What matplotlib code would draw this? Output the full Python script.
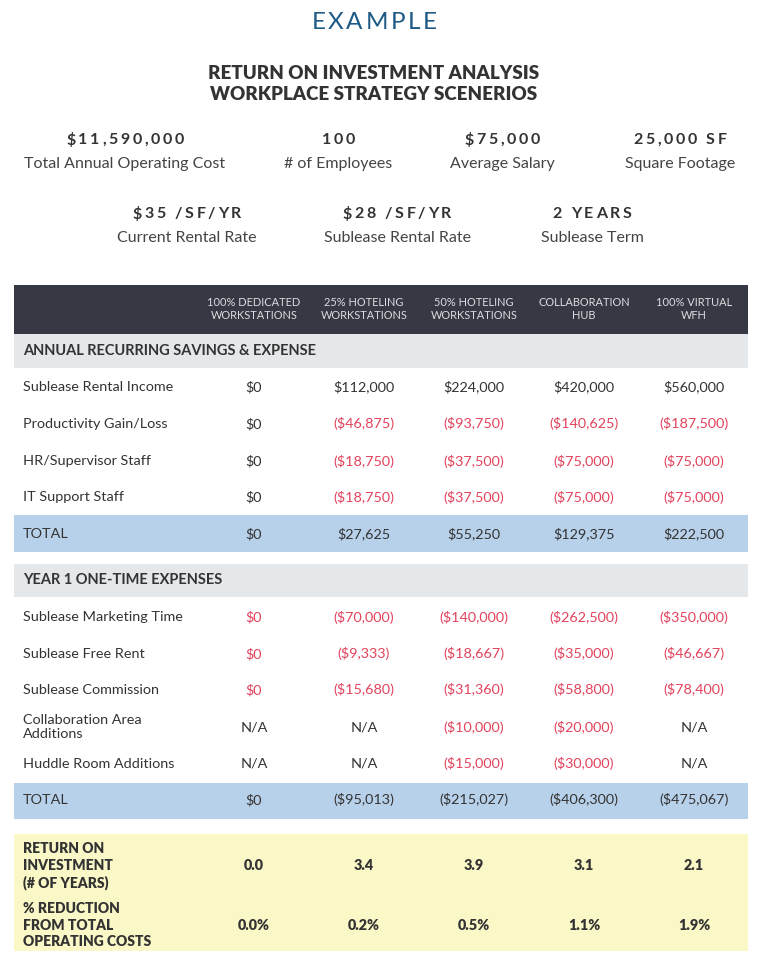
import matplotlib
matplotlib.use("Agg")
import matplotlib.pyplot as plt
from matplotlib import font_manager, ft2font
from matplotlib.patches import Rectangle

# ---- datos ----
kpi_values_1 = ["$11,590,000", "100", "$75,000", "25,000 SF"]
kpi_labels_1 = ["Total Annual Operating Cost", "# of Employees", "Average Salary", "Square Footage"]
kpi_values_2 = ["$35 /SF/YR", "$28 /SF/YR", "2 YEARS"]
kpi_labels_2 = ["Current Rental Rate", "Sublease Rental Rate", "Sublease Term"]

columnas = ["100% DEDICATED\nWORKSTATIONS", "25% HOTELING\nWORKSTATIONS",
            "50% HOTELING\nWORKSTATIONS", "COLLABORATION\nHUB", "100% VIRTUAL\nWFH"]

recurrente_filas = ["Sublease Rental Income", "Productivity Gain/Loss",
                    "HR/Supervisor Staff", "IT Support Staff"]
sublease_income = [0, 112000, 224000, 420000, 560000]
productividad = [0, -46875, -93750, -140625, -187500]
hr_staff = [0, -18750, -37500, -75000, -75000]
it_staff = [0, -18750, -37500, -75000, -75000]
total_recurrente = [0, 27625, 55250, 129375, 222500]

unico_filas = ["Sublease Marketing Time", "Sublease Free Rent", "Sublease Commission",
               "Collaboration Area\nAdditions", "Huddle Room Additions"]
marketing = [0, -70000, -140000, -262500, -350000]
free_rent = [0, -9333, -18667, -35000, -46667]
comision = [0, -15680, -31360, -58800, -78400]
collab_area = [None, None, -10000, -20000, None]
huddle = [None, None, -15000, -30000, None]
total_unico = [0, -95013, -215027, -406300, -475067]

roi_anios = [0.0, 3.4, 3.9, 3.1, 2.1]
reduccion_pct = [0.0, 0.2, 0.5, 1.1, 1.9]

# ---- estilo ----
FUENTE = "Lato"
OSCURO = "#363943"
GRIS = "#e5e8ea"
AZUL = "#b8d1ea"
AMARILLO = "#fbf8c8"
ROJO = "#e2435c"
TEXTO = "#333333"

col_x = [254, 364, 474, 584, 694]
x_izq, x_der = 14, 748
label_x = 23
FS = 10.4  # cuerpo de la tabla


def fmt(v):
    if v is None:
        return "N/A"
    if v < 0:
        return "(${:,})".format(-v)
    return "${:,}".format(v)


def texto_espaciado(ax, xc, y, s, size, weight, color, esp):
    # dibuja texto con espaciado entre letras (px)
    fp = font_manager.FontProperties(family=FUENTE, weight=weight)
    fuente = ft2font.FT2Font(font_manager.findfont(fp))
    fuente.set_size(size, 100)
    anchos = []
    for c in s:
        g = fuente.load_char(ord(c))
        anchos.append(g.linearHoriAdvance / 65536)
    total = sum(anchos) + esp * (len(s) - 1)
    x = xc - total / 2
    for c, w in zip(s, anchos):
        ax.text(x, y, c, fontsize=size, fontweight=weight, color=color,
                family=FUENTE, ha="left", va="center")
        x += w + esp


fig = plt.figure(figsize=(7.6, 9.69), dpi=100)
ax = fig.add_axes([0, 0, 1, 1])
ax.set_xlim(0, 760)
ax.set_ylim(969, 0)
ax.axis("off")

# titulo
texto_espaciado(ax, 374, 22, "EXAMPLE", 17.5, "normal", "#1d5a85", 2.6)
ax.text(374, 73, "RETURN ON INVESTMENT ANALYSIS", fontsize=13.5, fontweight="heavy",
        family=FUENTE, color=TEXTO, ha="center", va="center")
ax.text(374, 94, "WORKPLACE STRATEGY SCENERIOS", fontsize=13.5, fontweight="heavy",
        family=FUENTE, color=TEXTO, ha="center", va="center")

# indicadores
for xc, v, l in zip([125, 338, 502, 680], kpi_values_1, kpi_labels_1):
    texto_espaciado(ax, xc, 140, v, 11.5, "bold", TEXTO, 2.6)
    ax.text(xc, 164, l, fontsize=11.5, family=FUENTE, color="#444444", ha="center", va="center")
for xc, v, l in zip([187, 397, 592], kpi_values_2, kpi_labels_2):
    texto_espaciado(ax, xc, 214, v, 11.5, "bold", TEXTO, 2.6)
    ax.text(xc, 238, l, fontsize=11.5, family=FUENTE, color="#444444", ha="center", va="center")


def banda(y0, y1, color):
    ax.add_patch(Rectangle((x_izq, y0), x_der - x_izq, y1 - y0, color=color, lw=0))


# encabezado de tabla
banda(285, 334, OSCURO)
for xc, c in zip(col_x, columnas):
    ax.text(xc, 309, c, fontsize=7.9, family=FUENTE, color="#dcdde0", ha="center",
            va="center", linespacing=1.2)

# seccion 1
banda(334, 368, GRIS)
ax.text(label_x, 351, "ANNUAL RECURRING SAVINGS & EXPENSE", fontsize=10.5, fontweight="bold",
        family=FUENTE, color=TEXTO, ha="left", va="center")

recurrentes = [sublease_income, productividad, hr_staff, it_staff]
for y, nombre, vals in zip([387, 424, 461, 497], recurrente_filas, recurrentes):
    ax.text(label_x, y, nombre, fontsize=FS, family=FUENTE, color=TEXTO, ha="left", va="center")
    for xc, v in zip(col_x, vals):
        color = ROJO if (v is not None and v < 0) else TEXTO
        ax.text(xc, y, fmt(v), fontsize=FS, family=FUENTE, color=color, ha="center", va="center")

banda(515, 552, AZUL)
ax.text(label_x, 534, "TOTAL", fontsize=FS, family=FUENTE, color=TEXTO, ha="left", va="center")
for xc, v in zip(col_x, total_recurrente):
    ax.text(xc, 534, fmt(v), fontsize=FS, family=FUENTE, color=TEXTO, ha="center", va="center")

# seccion 2
banda(564, 597, GRIS)
ax.text(label_x, 580, "YEAR 1 ONE-TIME EXPENSES", fontsize=10.5, fontweight="bold",
        family=FUENTE, color=TEXTO, ha="left", va="center")

unicos = [marketing, free_rent, comision, collab_area, huddle]
for y, nombre, vals in zip([617, 654, 690, 727, 764], unico_filas, unicos):
    ax.text(label_x, y, nombre, fontsize=FS, family=FUENTE, color=TEXTO, ha="left",
            va="center", linespacing=1.15)
    for xc, v in zip(col_x, vals):
        color = TEXTO if v is None else ROJO
        ax.text(xc, y, fmt(v), fontsize=FS, family=FUENTE, color=color, ha="center", va="center")

banda(783, 819, AZUL)
ax.text(label_x, 800, "TOTAL", fontsize=FS, family=FUENTE, color=TEXTO, ha="left", va="center")
for xc, v in zip(col_x, total_unico):
    ax.text(xc, 800, fmt(v), fontsize=FS, family=FUENTE, color=TEXTO, ha="center", va="center")

# resumen
banda(834, 951, AMARILLO)
ax.text(label_x, 866, "RETURN ON\nINVESTMENT\n(# OF YEARS)", fontsize=10, fontweight="heavy",
        family=FUENTE, color=TEXTO, ha="left", va="center", linespacing=1.3)
ax.text(label_x, 925, "% REDUCTION\nFROM TOTAL\nOPERATING COSTS", fontsize=10, fontweight="heavy",
        family=FUENTE, color=TEXTO, ha="left", va="center", linespacing=1.3)
for xc, r, p in zip(col_x, roi_anios, reduccion_pct):
    ax.text(xc, 866, "{:.1f}".format(r), fontsize=10.4, fontweight="heavy", family=FUENTE,
            color=TEXTO, ha="center", va="center")
    ax.text(xc, 925, "{:.1f}%".format(p), fontsize=10.4, fontweight="heavy", family=FUENTE,
            color=TEXTO, ha="center", va="center")

fig.savefig("out.png", dpi=100, facecolor="white")
